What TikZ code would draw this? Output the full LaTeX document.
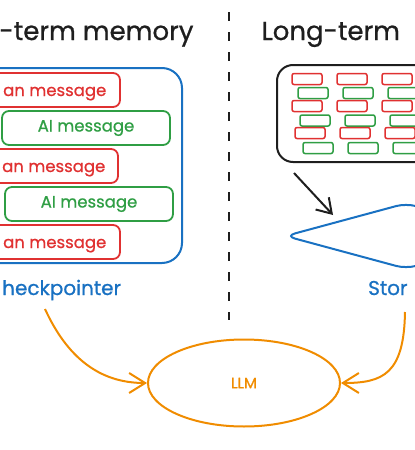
\documentclass[tikz,border=0pt]{standalone}
\usepackage{fontspec}
\setmainfont{Poppins}[FakeBold=0.8]
\usetikzlibrary{arrows.meta, positioning, shapes.geometric}
\definecolor{exRed}{HTML}{E03131}
\definecolor{exGreen}{HTML}{2F9E44}
\definecolor{exBlue}{HTML}{1971C2}
\definecolor{exOrange}{HTML}{F08C00}
\definecolor{exInk}{HTML}{1E1E1E}

\begin{document}
\begin{tikzpicture}[
      x = 1pt, y = -1pt,
      font = \fontsize{16.5}{19}\selectfont,
      title/.style={
        font = \fontsize{26}{30}\selectfont,
        text = exInk,
      },
      human/.style={
        draw = exRed,
        line width = 1.8pt,
        rounded corners = 7pt,
        minimum width = 170pt,
        minimum height = 34pt,
      },
      humantext/.style={
        text = exRed,
        inner sep = 0pt,
        anchor = base west,
      },
      aimsg/.style={
        draw = exGreen,
        text = exGreen,
        line width = 1.8pt,
        rounded corners = 7pt,
        minimum width = 168pt,
        minimum height = 34pt,
      },
      tiny/.style={
        line width = 1.5pt,
        rounded corners = 2pt,
        minimum width = 30pt,
        minimum height = 11pt,
        inner sep = 0pt,
      },
      tagtext/.style={
        font = \fontsize{20}{23}\selectfont,
        text = exBlue,
        inner sep = 1pt,
      },
      flow/.style={
        -{Straight Barb[length = 16pt, width = 20pt]},
        exOrange,
        line width = 2pt,
      },
    ]
    \useasboundingbox (0,0) rectangle (415,450);
    \clip (0,0) rectangle (415,450);

    % headings and divider
    \node[title, anchor = base east] (stmtitle) at (197,40) {-term memory};
    \node[title, anchor = base west] (ltmtitle) at (258,40) {Long-term};
    \coordinate (divtop) at (229,12);
    \coordinate (divbot) at (229,320);
    \draw[exInk, line width = 2.5pt, dash pattern = on 9pt off 11pt]
      (divtop) -- (divbot);

    % short-term: thread of messages
    \node[draw = exBlue, line width = 2pt, rounded corners = 20pt,
      minimum width = 254pt, minimum height = 195pt] (stm) at (55,165.5) {};
    \node[human] (h1) at (35,90) {};
    \node[aimsg] (a1) at (86,128) {AI message};
    \node[human] (h2) at (33,166) {};
    \node[aimsg] (a2) at (89,204) {AI message};
    \node[human] (h3) at (35,242) {};
    \node[humantext] (h1t) at (3,96) {an message};
    \node[humantext] (h2t) at (2,172) {an message};
    \node[humantext] (h3t) at (3,248) {an message};
    \node[tagtext, anchor = base west] (chk) at (1,295) {heckpointer};

    % long-term: many threads
    \node[draw = exInk, line width = 2pt, rounded corners = 16pt,
      minimum width = 300pt, minimum height = 97pt] (ltm) at (427,113.5) {};
    \foreach \c in {0,1,2,3} {
      \foreach \r/\dr/\dg in {0/0/6, 1/0/8, 2/3/11} {
        \node[tiny, draw = exRed] (r-\c-\r) at (307+45*\c+\dr, 79+27*\r) {};
        \node[tiny, draw = exGreen] (g-\c-\r) at (307+45*\c+\dg, 93+27.5*\r) {};
      }
    }
    \node[diamond, draw = exBlue, line width = 2pt, rounded corners = 10pt,
      minimum width = 242pt, minimum height = 66pt, inner sep = 0pt]
      (store) at (406,236) {};
    \node[tagtext, anchor = base west] (storelbl) at (367,295) {Stor};
    \coordinate (dropA) at ([shift={(18,10)}]ltm.south west);
    \coordinate (dropB) at (333,215);
    \draw[-{Straight Barb[length = 14pt, width = 18pt]}, exInk, line width = 2pt]
      (dropA) -- (dropB);

    % model
    \node[ellipse, draw = exOrange, line width = 2pt, text = exOrange,
      minimum width = 192pt, minimum height = 87pt,
      font = \fontsize{15}{18}\selectfont] (llm) at (244,383) {LLM};
    \draw[flow] ([shift={(-10,45)}]stm.south)
      .. controls +(22,48) and +(-48,0) .. (llm.west);
    \draw[flow] ([shift={(-1,76)}]store.center)
      .. controls +(-1,62) and +(42,0) .. (llm.east);
  \end{tikzpicture}
\end{document}
